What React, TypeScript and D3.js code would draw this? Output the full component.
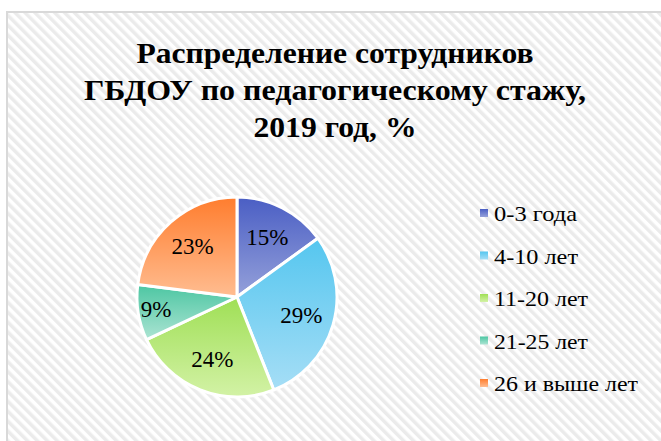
import React from "react";
import * as d3 from "d3";

const categories = ["0-3 года", "4-10 лет", "11-20 лет", "21-25 лет", "26 и выше лет"];
const values = [15, 29, 24, 9, 23];
const topColors = ["#4a5ec4", "#55c6ef", "#9fdf55", "#4cc6a2", "#ff7d2e"];
const bottomColors = ["#95a1da", "#a6def6", "#d3f2a6", "#ace4d3", "#ffbd91"];
const titleLines = ["Распределение сотрудников", "ГБДОУ по педагогическому стажу,", "2019 год, %"];

const W = 661;
const H = 441;
const cx = 237;
const cy = 297;
const R = 100;
const FONT = "Times New Roman, Tinos, Liberation Serif, Noto Serif, DejaVu Serif, serif";

export default function App() {
  const pie = d3.pie<number>().sort(null).value((d) => d)(values);
  const arc = d3.arc<d3.PieArcDatum<number>>().innerRadius(0).outerRadius(R);
  const legendY = d3.scalePoint<string>().domain(categories).range([213, 383]);

  const measureRef = React.useRef<SVGGElement>(null);
  const titleWidths = [397, 502, 163];
  const legendWidths = [83, 84, 94, 94, 144];

  return (
    <svg
      width={W}
      height={H}
      style={{ position: "absolute", left: 0, top: 0, display: "block" }}
      fontFamily={FONT}
    >
      <defs>
        <pattern id="stripes" patternUnits="userSpaceOnUse" width="7" height="7" patternTransform="rotate(-45)">
          <rect width="7" height="7" fill="#ffffff" />
          <rect width="3.5" height="7" fill="#ebebeb" />
        </pattern>
        {values.map((_, i) => (
          <linearGradient key={i} id={`g${i}`} x1="0" y1="0" x2="0" y2="1">
            <stop offset="0" stopColor={topColors[i]} />
            <stop offset="1" stopColor={bottomColors[i]} />
          </linearGradient>
        ))}
      </defs>
      <rect x={0} y={0} width={W} height={H} fill="#ffffff" />
      <rect x={7} y={12} width={W} height={H} fill="url(#stripes)" stroke="#d9d9d9" strokeWidth={2} />
      <g ref={measureRef}>
        {titleLines.map((t, i) => (
          <text
            key={i}
            x={335}
            y={63 + i * 37}
            textAnchor="middle"
            fontSize={30}
            fontWeight="bold"
            fill="#000"
            fontFamily={FONT}
            textLength={titleWidths[i]}
            lengthAdjust="spacingAndGlyphs"
          >
            {t}
          </text>
        ))}
      </g>
      <g transform={`translate(${cx},${cy})`}>
        {pie.map((p, i) => (
          <path key={i} d={arc(p) || ""} fill={`url(#g${i})`} stroke="#ffffff" strokeWidth={3} strokeLinejoin="round" />
        ))}
        {pie.map((p, i) => {
          const lr = values[i] < 10 ? 82 : 67;
          const [x, y] = d3.arc<d3.PieArcDatum<number>>().innerRadius(lr).outerRadius(lr).centroid(p);
          return (
            <text key={i} x={x} y={y} textAnchor="middle" dominantBaseline="central" fontSize={23} fill="#000" fontFamily={FONT}>
              {`${values[i]}%`}
            </text>
          );
        })}
      </g>
      {categories.map((c, i) => {
        const y = legendY(c) as number;
        return (
          <g key={c}>
            <rect x={480} y={y - 4} width={8} height={8} fill={`url(#g${i})`} />
            <text
              x={494}
              y={y + 1}
              dominantBaseline="central"
              fontSize={21}
              fill="#000"
              fontFamily={FONT}
              textLength={legendWidths[i]}
              lengthAdjust="spacingAndGlyphs"
            >
              {c}
            </text>
          </g>
        );
      })}
    </svg>
  );
}
